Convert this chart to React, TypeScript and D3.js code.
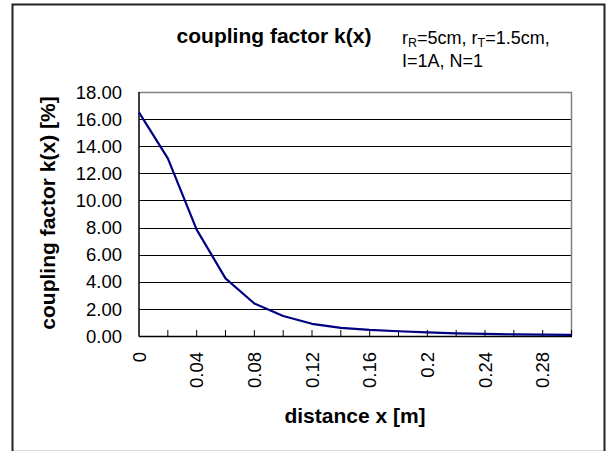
import React, { useEffect, useRef } from 'react';
import * as d3 from 'd3';

const distances = ["0", "0.02", "0.04", "0.06", "0.08", "0.1", "0.12", "0.14", "0.16", "0.18", "0.2", "0.22", "0.24", "0.26", "0.28", "0.3"];
const coupling = [16.5, 13.1, 7.85, 4.25, 2.4, 1.48, 0.9, 0.6, 0.45, 0.35, 0.27, 0.2, 0.16, 0.12, 0.1, 0.08];
const yTicks = [0, 2, 4, 6, 8, 10, 12, 14, 16, 18];

const W = 607;
const H = 451;

const App: React.FC = () => {
  const svgRef = useRef<SVGSVGElement>(null);

  useEffect(() => {
    if (!svgRef.current) return;
    const svg = d3.select(svgRef.current);
    svg.selectAll("*").remove();

    const left = 139, right = 571.5, top = 92, bottom = 336;
    const font = "Arial, 'Liberation Sans', sans-serif";

    const x = d3.scalePoint<string>().domain(distances).range([left, right]);
    const y = d3.scaleLinear().domain([0, 18]).range([bottom, top]);

    svg.append("rect").attr("width", W).attr("height", H).attr("fill", "#fff");

    // outer frame
    svg.append("line").attr("x1", 12.5).attr("x2", 605).attr("y1", 450.5).attr("y2", 450.5)
      .attr("stroke", "#d8d8d8").attr("stroke-width", 1);
    svg.append("path").attr("d", `M12.5,451 V4.5 H604.5 V451`)
      .attr("fill", "none").attr("stroke", "#222").attr("stroke-width", 2);

    // grid
    svg.append("g").selectAll("line").data(yTicks.slice(1, -1)).enter().append("line")
      .attr("x1", left).attr("x2", right)
      .attr("y1", d => Math.round(y(d)) + 0.5).attr("y2", d => Math.round(y(d)) + 0.5)
      .attr("stroke", "#000").attr("stroke-width", 1);

    // plot border (top/right gray)
    svg.append("path").attr("d", `M${left},${top + 0.5} H${right} V${bottom}`)
      .attr("fill", "none").attr("stroke", "#808080").attr("stroke-width", 1.5);

    // axes
    svg.append("line").attr("x1", left).attr("x2", left).attr("y1", top).attr("y2", bottom + 0.5)
      .attr("stroke", "#000").attr("stroke-width", 1.5);
    svg.append("line").attr("x1", left).attr("x2", right + 0.5).attr("y1", bottom + 0.5).attr("y2", bottom + 0.5)
      .attr("stroke", "#000").attr("stroke-width", 1.5);

    // x ticks inward
    svg.append("g").selectAll("line").data(distances.slice(1)).enter().append("line")
      .attr("x1", d => x(d)!).attr("x2", d => x(d)!)
      .attr("y1", bottom).attr("y2", bottom - 6)
      .attr("stroke", "#000").attr("stroke-width", 1);

    // y labels
    svg.append("g").selectAll("text").data(yTicks).enter().append("text")
      .attr("x", 122).attr("y", d => y(d)).attr("dy", "0.36em")
      .attr("text-anchor", "end")
      .style("font-family", font).style("font-size", "18.5px")
      .text(d => d.toFixed(2));

    // x labels (every other category)
    svg.append("g").selectAll("text").data(distances.filter((_, i) => i % 2 === 0)).enter().append("text")
      .attr("transform", d => `translate(${x(d)!},352) rotate(-90)`)
      .attr("dy", "0.36em")
      .attr("text-anchor", "end")
      .style("font-family", font).style("font-size", "18.5px")
      .text(d => d);

    // line
    const line = d3.line<number>()
      .x((_, i) => x(distances[i])!)
      .y(d => y(d));
    svg.append("path").datum(coupling)
      .attr("d", line)
      .attr("fill", "none").attr("stroke", "#000080").attr("stroke-width", 2.2)
      .attr("stroke-linejoin", "round");

    // titles
    svg.append("text").attr("x", 274).attr("y", 43).attr("text-anchor", "middle")
      .style("font-family", font).style("font-size", "21px").style("font-weight", "bold")
      .text("coupling factor k(x)");

    svg.append("text").attr("x", 355).attr("y", 423).attr("text-anchor", "middle")
      .style("font-family", font).style("font-size", "21px").style("font-weight", "bold")
      .text("distance x [m]");

    svg.append("text").attr("transform", "translate(55,213) rotate(-90)").attr("text-anchor", "middle")
      .style("font-family", font).style("font-size", "21px").style("font-weight", "bold")
      .text("coupling factor k(x) [%]");

    // annotation
    const ann = svg.append("text").attr("x", 402).attr("y", 44)
      .style("font-family", font).style("font-size", "18px");
    ann.append("tspan").text("r");
    ann.append("tspan").attr("dy", 3).style("font-size", "12.5px").text("R");
    ann.append("tspan").attr("dy", -3).text("=5cm, r");
    ann.append("tspan").attr("dy", 3).style("font-size", "12.5px").text("T");
    ann.append("tspan").attr("dy", -3).text("=1.5cm,");
    svg.append("text").attr("x", 402).attr("y", 67)
      .style("font-family", font).style("font-size", "18px")
      .text("I=1A, N=1");
  }, []);

  return (
    <div style={{ position: 'absolute', left: 0, top: 0 }}>
      <svg ref={svgRef} width={W} height={H} style={{ display: 'block' }} />
    </div>
  );
};

export default App;
